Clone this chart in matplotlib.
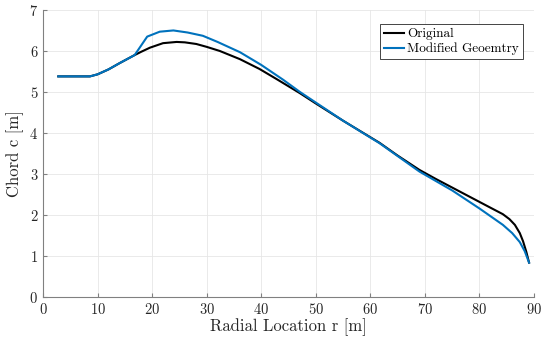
import matplotlib
matplotlib.use("Agg")
import matplotlib.pyplot as plt

# radial stations and chord
r_orig = [2.8, 5, 8.6, 10, 12, 14, 16.8, 18, 19.6, 22, 24.5, 26, 28.1, 30, 32.4,
          36.1, 39.7, 43, 47.1, 50, 55, 61.7, 65, 69, 72, 76, 80, 82, 84.3, 85.5,
          86.5, 87.4, 88, 88.6, 89.1]
c_orig = [5.38, 5.38, 5.38, 5.43, 5.55, 5.7, 5.9, 5.98, 6.08, 6.19, 6.22, 6.21,
          6.17, 6.1, 6.0, 5.8, 5.56, 5.3, 4.97, 4.72, 4.3, 3.76, 3.45, 3.1,
          2.88, 2.6, 2.32, 2.18, 2.02, 1.9, 1.76, 1.56, 1.36, 1.1, 0.84]

r_mod = [2.8, 8.6, 10, 12, 14, 16.8, 19.1, 21.4, 23.9, 26.5, 29.3, 32, 36.1, 40,
         44, 47.1, 55, 61.7, 69, 75, 80, 84.3, 86, 87.4, 88.3, 89.1]
c_mod = [5.38, 5.38, 5.43, 5.55, 5.7, 5.9, 6.35, 6.47, 6.5, 6.45, 6.37, 6.22,
         5.97, 5.66, 5.3, 5.0, 4.3, 3.75, 3.06, 2.6, 2.16, 1.76, 1.56, 1.34,
         1.12, 0.84]

plt.rcParams["font.family"] = "serif"
plt.rcParams["font.serif"] = ["cmr10"]
plt.rcParams["axes.formatter.use_mathtext"] = True

fig = plt.figure(figsize=(5.41, 3.43), dpi=100)
ax = fig.add_axes([0.0795, 0.134, 0.9075, 0.837])

ax.plot(r_orig, c_orig, color="black", linewidth=1.5, label="Original")
ax.plot(r_mod, c_mod, color="#0072BD", linewidth=1.5, label="Modified Geoemtry")

ax.set_xlim(0, 90)
ax.set_ylim(0, 7)
ax.set_xticks(range(0, 91, 10))
ax.set_yticks(range(0, 8))
ax.grid(True, color="#e6e6e6", linewidth=0.6)
ax.set_axisbelow(True)

for side in ["top", "right"]:
    ax.spines[side].set_visible(False)
for side in ["left", "bottom"]:
    ax.spines[side].set_color("#808080")
    ax.spines[side].set_linewidth(0.8)
ax.tick_params(direction="in", length=3, color="#808080", labelsize=10.5,
               labelcolor="#262626")

ax.set_xlabel("Radial Location r [m]", fontsize=12, color="#262626", labelpad=1)
ax.set_ylabel("Chord c [m]", fontsize=12, color="#262626", labelpad=4)

leg = ax.legend(loc="upper right", bbox_to_anchor=(0.985, 0.965), fontsize=9.5,
                fancybox=False, framealpha=1, edgecolor="#262626",
                handlelength=1.5, handletextpad=0.25, borderpad=0.3,
                labelspacing=0.2, borderaxespad=0.3)
leg.get_frame().set_linewidth(0.6)

fig.savefig("out.png", dpi=100)
